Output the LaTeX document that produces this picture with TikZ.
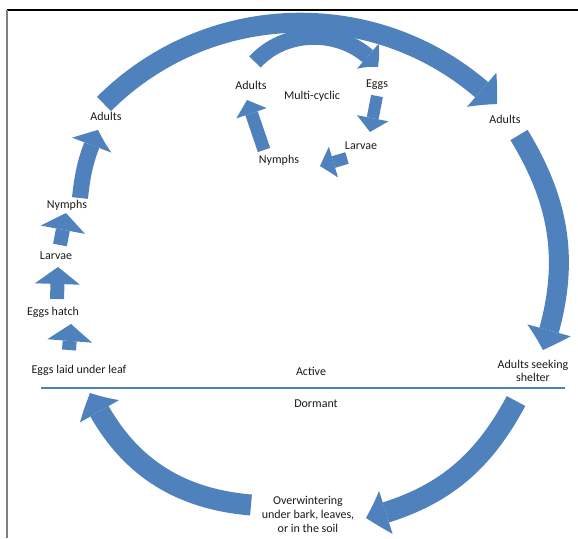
\documentclass[tikz,border=0pt]{standalone}
\usepackage{fontspec}
\setmainfont{Carlito}
\usetikzlibrary{arrows.meta,bending}
\definecolor{cyc}{HTML}{4F81BD}
\definecolor{txt}{HTML}{1A1A1A}
\begin{document}
\begin{tikzpicture}[x=1pt,y=1pt,
  lbl/.style={font=\fontsize{12}{14}\selectfont, text=txt, inner sep=0pt, align=center},
  bigband/.style={draw=cyc, line width=20pt, -{Triangle[length=21pt,width=45pt,line width=0pt,bend]}},
  midband/.style={draw=cyc, line width=16pt, -{Triangle[length=17pt,width=42pt,line width=0pt,bend]}},
  innerband/.style={draw=cyc, line width=16pt, -{Triangle[length=15pt,width=33pt,line width=0pt,bend]}},
  smallband/.style={draw=cyc, line width=14pt, -{Triangle[length=17pt,width=45pt,line width=0pt]}},
  tinyband/.style={draw=cyc, line width=12pt, -{Triangle[length=14pt,width=32pt,line width=0pt]}}]
\useasboundingbox (0,0) rectangle (578,-538);
% frame
\draw[black, line width=1.2pt] (7,-10) -- (578,-10);
\draw[gray, line width=2pt] (7,-10) -- (7,-538);
% divider
\coordinate (dl) at (41,-388);
\coordinate (dr) at (565,-388);
\draw[cyc, line width=2.2pt] (dl) -- (dr);

% labels
\node[lbl] (adL) at (106,-116) {Adults};
\node[lbl] (nyL) at (67,-205) {Nymphs};
\node[lbl] (laL) at (56,-256) {Larvae};
\node[lbl] (ehL) at (53,-312) {Eggs hatch};
\node[lbl] (elL) at (79,-370) {Eggs laid under leaf};
\node[lbl] (act) at (311,-371) {Active};
\node[lbl] (dor) at (316,-404) {Dormant};
\node[lbl] (adR) at (505,-119) {Adults};
\node[lbl, font=\fontsize{12}{13.5}\selectfont] (ash) at (533,-371) {Adults seeking\\shelter};
\node[lbl, font=\fontsize{12}{14}\selectfont] (ovw) at (308,-514) {Overwintering\\under bark, leaves,\\or in the soil};
\node[lbl] (adI) at (251,-85) {Adults};
\node[lbl] (mc) at (312,-96) {Multi-cyclic};
\node[lbl] (egI) at (377,-85) {Eggs};
\node[lbl] (laI) at (361,-146) {Larvae};
\node[lbl] (nyI) at (279,-160) {Nymphs};

% main cycle coordinates
\coordinate (t1) at (104,-104);
\coordinate (h1) at (497,-104);
\coordinate (t2) at (519,-135);
\coordinate (h2) at (543,-350);
\coordinate (t3) at (516,-401);
\coordinate (h3) at (366,-518);
\coordinate (t4) at (251,-505);
\coordinate (h4) at (90,-393);
\draw[bigband] (t1) to[bend left=45] (h1);
\draw[bigband] (t2) to[bend left=25] (h2);
\draw[bigband, line width=21pt] (t3) to[bend left=24] (h3);
\draw[bigband, line width=21pt] (t4) to[bend left=30] (h4);

% left ladder
\coordinate (s1) at (69,-350);
\coordinate (e1) at (71,-324);
\coordinate (s2) at (57,-299);
\coordinate (e2) at (58,-267);
\coordinate (s3) at (60,-245);
\coordinate (e3) at (66,-213);
\coordinate (s4) at (80,-198);
\coordinate (e4) at (98,-130);
\draw[smallband] (s1) -- (e1);
\draw[smallband] (s2) -- (e2);
\draw[smallband] (s3) -- (e3);
\draw[midband] (s4) to[bend left=9] (e4);

% inner cycle
\coordinate (i1) at (255,-62);
\coordinate (j1) at (378,-67);
\coordinate (i2) at (377,-96);
\coordinate (j2) at (370,-132);
\coordinate (i3) at (347,-158);
\coordinate (j3) at (320,-166);
\coordinate (i4) at (264,-150);
\coordinate (j4) at (247,-100);
\draw[innerband] (i1) to[bend left=50] (j1);
\draw[tinyband] (i2) -- (j2);
\draw[tinyband] (i3) -- (j3);
\draw[tinyband, line width=13pt] (i4) -- (j4);
\end{tikzpicture}
\end{document}
